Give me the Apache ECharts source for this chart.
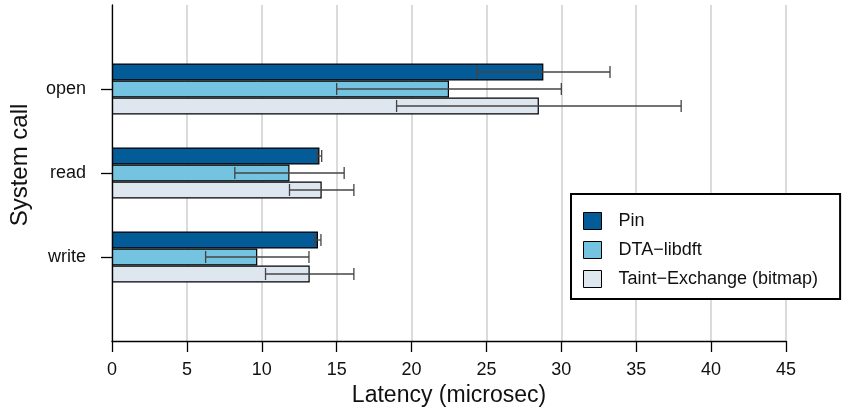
<!DOCTYPE html>
<html>
<head>
<meta charset="utf-8">
<script src="https://cdn.jsdelivr.net/npm/echarts@6/dist/echarts.min.js"></script>
<style>
  html, body { margin: 0; padding: 0; background: #fff; }
  #chart { width: 849px; height: 417px; }
</style>
</head>
<body>
<div id="chart"></div>
<script>
// categories (empty ones pad the top and bottom of the axis)
const categories = ['', 'open', 'read', 'write', '']
const seriesNames = ['Pin', 'DTA\u2212libdft', 'Taint\u2212Exchange (bitmap)']
const colors = ['#035b98', '#74c3e1', '#dee6f0']

// mean latency per syscall (open, read, write)
const pinMean = [28.8, 13.85, 13.75]
const dtaMean = [22.5, 11.85, 9.7]
const taintMean = [28.5, 14.0, 13.2]
// error (+/-)
const pinErr = [4.45, 0.15, 0.2]
const dtaErr = [7.5, 3.65, 3.45]
const taintErr = [9.5, 2.15, 2.95]

const means = [pinMean, dtaMean, taintMean]
const errs = [pinErr, dtaErr, taintErr]

const font = '"Liberation Sans", Arial, Helvetica, sans-serif'
const barW = 17

let chart = echarts.init(document.getElementById('chart'))

let series = []
means.forEach((m, s) => {
  series.push({
    name: seriesNames[s],
    type: 'bar',
    barWidth: barW,
    barGap: '0%',
    itemStyle: { color: colors[s], borderColor: '#000', borderWidth: 1.2 },
    data: [null].concat(m, [null])
  })
})

// error bars
means.forEach((m, s) => {
  let data = m.map((v, i) => [i + 1, v, errs[s][i]])
  series.push({
    name: 'err' + s,
    type: 'custom',
    z: 5,
    encode: { x: 1, y: 0 },
    data: data,
    renderItem: function (params, api) {
      let cat = api.value(0)
      let v = api.value(1)
      let e = api.value(2)
      let lo = api.coord([v - e, cat])
      let hi = api.coord([v + e, cat])
      let y = lo[1] + (s - 1) * barW
      let cap = 6
      let st = { stroke: '#444', lineWidth: 1.3 }
      return {
        type: 'group',
        children: [
          { type: 'line', shape: { x1: lo[0], y1: y, x2: hi[0], y2: y }, style: st },
          { type: 'line', shape: { x1: lo[0], y1: y - cap, x2: lo[0], y2: y + cap }, style: st },
          { type: 'line', shape: { x1: hi[0], y1: y - cap, x2: hi[0], y2: y + cap }, style: st }
        ]
      }
    }
  })
})

chart.setOption({
  animation: false,
  textStyle: { fontFamily: font },
  grid: { left: 112, top: 5, right: 63, bottom: 76, containLabel: false, outerBoundsMode: 'none' },
  legend: {
    data: seriesNames,
    orient: 'vertical',
    left: 571,
    top: 194,
    padding: [18, 22, 11, 12],
    backgroundColor: '#fff',
    borderColor: '#000',
    borderWidth: 2,
    borderRadius: 0,
    itemWidth: 18,
    itemHeight: 17,
    itemGap: 11,
    icon: 'rect',
    itemStyle: { borderColor: '#000', borderWidth: 1 },
    textStyle: { fontSize: 18, color: '#111', fontFamily: font, padding: [0, 0, 0, 12] }
  },
  xAxis: {
    type: 'value',
    min: 0,
    max: 45,
    interval: 5,
    name: 'Latency (microsec)',
    nameLocation: 'middle',
    nameGap: 42,
    nameTextStyle: { fontSize: 23, color: '#111', fontFamily: font },
    axisLine: { show: true, lineStyle: { color: '#000', width: 1.3 } },
    axisTick: { show: true, length: 11, lineStyle: { color: '#000', width: 1.3 } },
    axisLabel: { fontSize: 18, color: '#111', margin: 20, fontFamily: font },
    splitLine: { show: true, lineStyle: { color: '#cfcfcf', width: 1.5 } }
  },
  yAxis: {
    type: 'category',
    data: categories,
    inverse: true,
    boundaryGap: false,
    name: 'System call',
    nameLocation: 'middle',
    nameGap: 80,
    nameTextStyle: { fontSize: 24, color: '#111', fontFamily: font, padding: [0, 0, 0, 16] },
    axisLine: { show: true, lineStyle: { color: '#000', width: 1.3 } },
    axisTick: {
      show: true,
      length: 11,
      interval: function (i, v) { return v !== '' },
      lineStyle: { color: '#000', width: 1.3 }
    },
    axisLabel: { fontSize: 18, color: '#111', margin: 26, fontFamily: font },
    splitLine: { show: false }
  },
  series: series
})
</script>
</body>
</html>
